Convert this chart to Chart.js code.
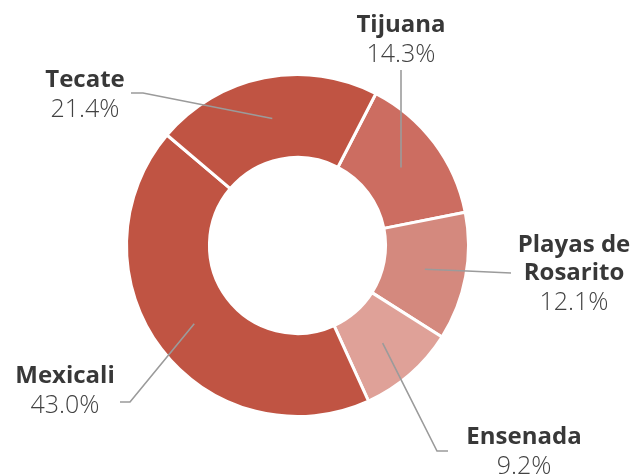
<!DOCTYPE html>
<html>
<head>
<meta charset="utf-8">
<script src="https://cdn.jsdelivr.net/npm/chart.js@4"></script>
<style>
  html, body { margin: 0; padding: 0; background: #fff; }
  #wrap { width: 633px; height: 475px; }
</style>
</head>
<body>
<div id="wrap"><canvas id="municipiosChart" width="633" height="475"></canvas></div>
<script>
const municipios = ["Tijuana", "Playas de Rosarito", "Ensenada", "Mexicali", "Tecate"];
const porcentajes = [14.3, 12.1, 9.2, 43.0, 21.4];
const colores = ["#cc6d61", "#d4897e", "#dfa198", "#c05443", "#c05443"];

// where each label and its leader line go (elbow, end, text anchor)
const etiquetas = [
  { lines: ["Tijuana"], elbow: null, end: [402, 70], tx: 401, ty: 32 },
  { lines: ["Playas de", "Rosarito"], elbow: [467, 271], end: [511, 273], tx: 574, ty: 252 },
  { lines: ["Ensenada"], elbow: [437, 451], end: [448, 451], tx: 524, ty: 444 },
  { lines: ["Mexicali"], elbow: [130, 402], end: [120, 402], tx: 65, ty: 383 },
  { lines: ["Tecate"], elbow: [143, 93], end: [131, 93], tx: 85, ty: 87 }
];

const leaderLabels = {
  id: "leaderLabels",
  afterDatasetsDraw(chart) {
    const ctx = chart.ctx;
    const arcs = chart.getDatasetMeta(0).data;
    arcs.forEach((arc, i) => {
      const p = arc.getProps(["x", "y", "startAngle", "endAngle", "innerRadius", "outerRadius"], true);
      const mid = (p.startAngle + p.endAngle) / 2;
      const r = (p.innerRadius + p.outerRadius) / 2;
      const ax = p.x + Math.cos(mid) * r;
      const ay = p.y + Math.sin(mid) * r;
      const lab = etiquetas[i];

      ctx.save();
      ctx.strokeStyle = "#9b9b9b";
      ctx.lineWidth = 1.6;
      ctx.beginPath();
      ctx.moveTo(ax, ay);
      if (lab.elbow) ctx.lineTo(lab.elbow[0], lab.elbow[1]);
      ctx.lineTo(lab.elbow ? lab.end[0] : ax, lab.end[1]);
      ctx.stroke();

      ctx.textAlign = "center";
      ctx.textBaseline = "alphabetic";
      ctx.fillStyle = "#383838";
      ctx.font = "bold 24px 'Open Sans'";
      let y = lab.ty;
      lab.lines.forEach((t, k) => {
        ctx.fillText(t, lab.tx, y);
        y += k < lab.lines.length - 1 ? 28 : 29.5;
      });
      ctx.fillStyle = "#424242";
      ctx.font = "300 25px 'Open Sans'";
      ctx.fillText(porcentajes[i].toFixed(1) + "%", lab.tx, y);
      ctx.restore();
    });
  }
};

const ctx = document.getElementById("municipiosChart").getContext("2d");
new Chart(ctx, {
  type: "doughnut",
  data: {
    labels: municipios,
    datasets: [
      {
        data: porcentajes,
        backgroundColor: colores,
        borderColor: "#ffffff",
        borderWidth: 3
      }
    ]
  },
  options: {
    responsive: false,
    animation: false,
    rotation: 27.3,
    cutout: "51.5%",
    layout: { padding: { left: 125, right: 163, top: 73, bottom: 57 } },
    plugins: {
      legend: { display: false },
      tooltip: { enabled: false }
    }
  },
  plugins: [leaderLabels]
});
</script>
</body>
</html>
